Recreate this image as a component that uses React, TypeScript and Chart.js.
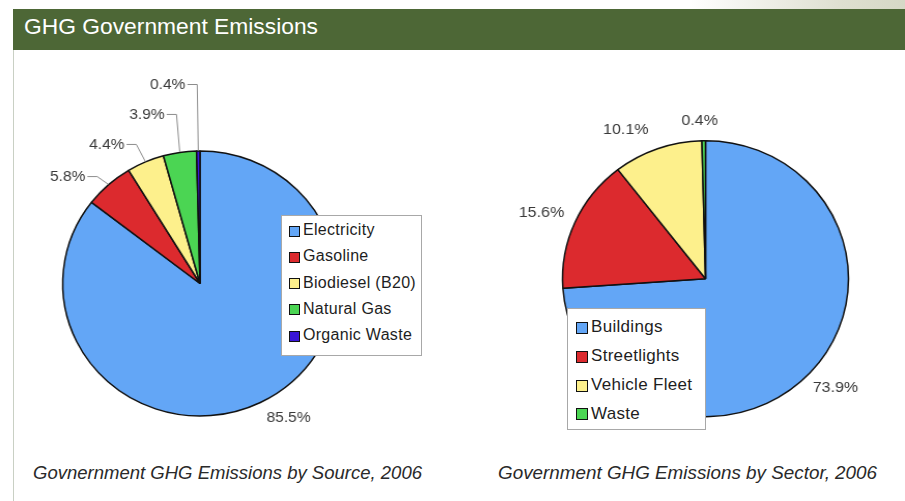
import React, { useEffect, useRef } from 'react';
import { Chart, registerables } from 'chart.js';

Chart.register(...registerables);

// ---- data ----
const titleText = 'GHG Government Emissions';
const caption1 = 'Govnernment GHG Emissions by Source, 2006';
const caption2 = 'Government GHG Emissions by Sector, 2006';

const sourceLabels = ['Electricity', 'Gasoline', 'Biodiesel (B20)', 'Natural Gas', 'Organic Waste'];
const sourceValues = [85.5, 5.8, 4.4, 3.9, 0.4];
const sourceColors = ['#63a6f6', '#dc2a2e', '#fdf08c', '#4bd553', '#3a16d8'];

const sectorLabels = ['Buildings', 'Streetlights', 'Vehicle Fleet', 'Waste'];
const sectorValues = [73.9, 15.6, 10.1, 0.4];
const sectorColors = ['#63a6f6', '#dc2a2e', '#fdf08c', '#4bd553'];

// ---- style / layout config ----
const STRETCH = 1.036;
const sourceLabelOffsets = [[27, 14.5], [-39.2, -7.7], [-37.2, -17], [-31.7, -37.5], [-29.6, -66]];
const sourceLeaders = [false, true, true, true, true];
const sectorLabelOffsets = [[24.1, 15], [-31.9, -9], [-30.4, -18.7], [-3.9, -19]];
const sectorLeaders = [false, false, false, false];

const SANS = '"Liberation Sans", Arial, sans-serif';
const NARROW = '"Liberation Sans Narrow", "Arial Narrow", "Liberation Sans", Arial, sans-serif';

function makeLabelPlugin(offsets: number[][], leaders: boolean[], fontSize: number) {
  return {
    id: 'sliceLabels',
    afterDatasetsDraw(chart: any) {
      const ctx = chart.ctx;
      const meta = chart.getDatasetMeta(0);
      const values = chart.data.datasets[0].data as number[];
      ctx.save();
      ctx.font = `${fontSize}px ${SANS}`;
      ctx.textAlign = 'center';
      ctx.textBaseline = 'middle';
      meta.data.forEach((arc: any, i: number) => {
        const p = arc.getProps(['x', 'y', 'startAngle', 'endAngle', 'outerRadius'], true);
        const mid = (p.startAngle + p.endAngle) / 2;
        const ax = p.x + Math.cos(mid) * (p.outerRadius + 0.5);
        const ay = p.y + Math.sin(mid) * (p.outerRadius + 0.5);
        const lx = ax + offsets[i][0];
        const ly = ay + offsets[i][1];
        const text = values[i].toFixed(1) + '%';
        ctx.fillStyle = '#3a3a3a';
        ctx.fillText(text, lx, ly);
        if (leaders[i]) {
          const w = ctx.measureText(text).width;
          const sx = lx + w / 2 + 2;
          ctx.beginPath();
          ctx.moveTo(sx, ly);
          ctx.lineTo(sx + 9.5, ly);
          ctx.lineTo(ax, ay);
          ctx.strokeStyle = '#8c8c8c';
          ctx.lineWidth = 1;
          ctx.stroke();
        }
      });
      ctx.restore();
    },
  };
}

function PieChart(props: any) {
  const { labels, values, colors, left, top, width, height, cx, cy, radius, offsets, leaders, fontSize } = props;
  const ref = useRef<HTMLCanvasElement | null>(null);
  useEffect(() => {
    const side = 2 * radius + 1.5;
    const chart = new Chart(ref.current as HTMLCanvasElement, {
      type: 'pie',
      data: {
        labels,
        datasets: [
          {
            data: values,
            backgroundColor: colors,
            borderColor: '#111111',
            borderWidth: 1.5,
            hoverOffset: 0,
          },
        ],
      },
      options: {
        responsive: false,
        maintainAspectRatio: false,
        animation: false,
        devicePixelRatio: 1,
        layout: {
          padding: {
            left: cx - side / 2,
            right: width - cx - side / 2,
            top: cy - side / 2,
            bottom: height - cy - side / 2,
          },
        },
        plugins: { legend: { display: false }, tooltip: { enabled: false } },
      } as any,
      plugins: [makeLabelPlugin(offsets, leaders, fontSize) as any],
    });
    return () => chart.destroy();
  }, []);
  return (
    <div
      style={{
        position: 'absolute',
        left,
        top,
        width,
        height,
        transform: `scaleX(${STRETCH})`,
        transformOrigin: `${cx}px ${cy}px`,
      }}
    >
      <canvas ref={ref} width={width} height={height} style={{ display: 'block' }} />
    </div>
  );
}

function Legend(props: any) {
  const { labels, colors, left, top, width, height, firstY, step, swatchX, swatch, textX, fontSize } = props;
  return (
    <div
      style={{
        position: 'absolute',
        left,
        top,
        width,
        height,
        boxSizing: 'border-box',
        border: '1px solid #a8a8a8',
        background: '#ffffff',
      }}
    >
      {labels.map((lab: string, i: number) => {
        const cyy = firstY + i * step;
        return (
          <React.Fragment key={lab}>
            <div
              style={{
                position: 'absolute',
                left: swatchX - 1,
                top: cyy - swatch / 2 - 1,
                width: swatch,
                height: swatch,
                background: colors[i],
                border: '1px solid #111',
              }}
            />
            <div
              style={{
                position: 'absolute',
                left: textX - 1,
                top: cyy - fontSize / 2 - 1,
                height: fontSize,
                lineHeight: fontSize + 'px',
                fontSize,
                fontFamily: SANS,
                color: '#1e1e1e',
                whiteSpace: 'nowrap',
                letterSpacing: '0.3px',
              }}
            >
              {lab}
            </div>
          </React.Fragment>
        );
      })}
    </div>
  );
}

const measureCtx = document.createElement('canvas').getContext('2d') as CanvasRenderingContext2D;

function FitText(props: any) {
  const { text, left, baseline, width, size, family, italic, color } = props;
  const font = `${italic ? 'italic ' : ''}${size}px ${family}`;
  measureCtx.font = font;
  const w = measureCtx.measureText(text).width || width;
  const sx = width / w;
  return (
    <div
      style={{
        position: 'absolute',
        left,
        top: baseline - 0.8465 * size,
        font,
        lineHeight: size + 'px',
        whiteSpace: 'nowrap',
        color,
        transform: `scaleX(${sx})`,
        transformOrigin: '0 0',
      }}
    >
      {text}
    </div>
  );
}

export default function App() {
  return (
    <div
      style={{
        position: 'absolute',
        left: 0,
        top: 0,
        width: 905,
        height: 501,
        overflow: 'hidden',
        background: '#ffffff',
      }}
    >
      <div
        style={{
          position: 'absolute',
          left: 690,
          top: 0,
          width: 215,
          height: 9,
          background: 'linear-gradient(to right, #ffffff, #dedfd0 70%, #d6d8c6)',
        }}
      />
      <div style={{ position: 'absolute', left: 13, top: 9, width: 892, height: 41, background: '#4d6736' }} />
      <div style={{ position: 'absolute', left: 13, top: 50, width: 1, height: 451, background: '#c9d0c4' }} />
      <FitText text={titleText} left={24} baseline={34.3} width={294} size={22} family={NARROW} color="#ffffff" />

      <PieChart
        labels={sourceLabels}
        values={sourceValues}
        colors={sourceColors}
        left={0}
        top={60}
        width={400}
        height={380}
        cx={200}
        cy={223.5}
        radius={132.5}
        offsets={sourceLabelOffsets}
        leaders={sourceLeaders}
        fontSize={15}
      />
      <PieChart
        labels={sectorLabels}
        values={sectorValues}
        colors={sectorColors}
        left={505}
        top={60}
        width={400}
        height={380}
        cx={200.5}
        cy={218.7}
        radius={138}
        offsets={sectorLabelOffsets}
        leaders={sectorLeaders}
        fontSize={15.5}
      />

      <Legend
        labels={sourceLabels}
        colors={sourceColors}
        left={281}
        top={215}
        width={141}
        height={141}
        firstY={15}
        step={26.3}
        swatchX={8}
        swatch={9}
        textX={22}
        fontSize={16}
      />
      <Legend
        labels={sectorLabels}
        colors={sectorColors}
        left={567}
        top={308}
        width={139}
        height={122}
        firstY={18.7}
        step={28.9}
        swatchX={9}
        swatch={10}
        textX={24}
        fontSize={17}
      />

      <FitText text={caption1} left={33} baseline={479} width={389} size={19} family={NARROW} italic color="#2a2a2a" />
      <FitText text={caption2} left={498} baseline={479} width={379} size={19} family={NARROW} italic color="#2a2a2a" />
    </div>
  );
}
